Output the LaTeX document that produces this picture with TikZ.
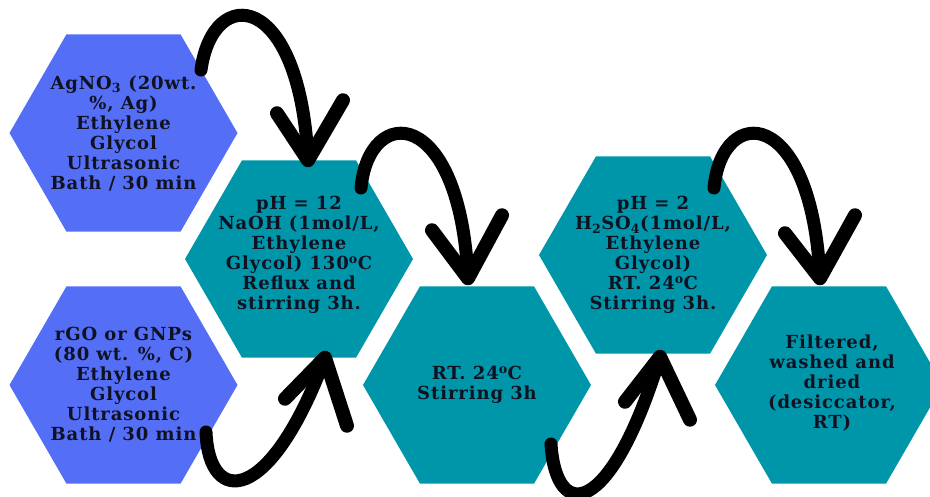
\documentclass[tikz,border=0pt]{standalone}
\usepackage{fontspec}
\setmainfont{DejaVu Serif}[LetterSpace=5]
\usetikzlibrary{shapes.geometric}
\definecolor{hexblue}{RGB}{84,110,246}
\definecolor{hexteal}{RGB}{0,150,170}
\definecolor{inkdark}{RGB}{16,18,34}
\tikzset{
    hexa/.style={regular polygon,regular polygon sides=6,minimum size=228pt,inner sep=0pt,outer sep=0pt},
    hextext/.style={align=center,text=inkdark,font=\bfseries\fontsize{18}{20}\selectfont},
    brush/.style={line width=13pt,line cap=round},
    barb/.style={line width=14pt,line cap=round,line join=round}
}

\begin{document}
\begin{tikzpicture}[x=1pt,y=-1pt]

    \useasboundingbox (0,0) rectangle (930,497);
    \clip (0,0) rectangle (930,497);

    \node[hexa,fill=hexblue] (agno) at (123.5,133) {};
    \node[hexa,fill=hexblue] (rgo) at (123.5,385) {};
    \node[hexa,fill=hexteal] (naoh) at (299,259) {};
    \node[hexa,fill=hexteal] (rtstir) at (477,385) {};
    \node[hexa,fill=hexteal] (hso) at (653,255) {};
    \node[hexa,fill=hexteal] (filt) at (829,385) {};

    \node[hextext] (agnotxt) at (agno) {AgNO\textsubscript{3} (20wt.\\ \%, Ag)\\ Ethylene\\ Glycol\\ Ultrasonic\\ Bath / 30 min};
    \node[hextext] (rgotxt) at (rgo) {rGO or GNPs\\ (80 wt. \%, C)\\ Ethylene\\ Glycol\\ Ultrasonic\\ Bath / 30 min};
    \node[hextext] (naohtxt) at ([yshift=4pt]naoh) {pH = 12\\ NaOH (1mol/L,\\ Ethylene\\ Glycol) 130\textsuperscript{o}C\\ Reflux and\\ stirring 3h.};
    \node[hextext] (rtstirtxt) at (rtstir) {RT. 24\textsuperscript{o}C\\ Stirring 3h};
    \node[hextext] (hsotxt) at (hso) {pH = 2\\ H\textsubscript{2}SO\textsubscript{4}(1mol/L,\\ Ethylene\\ Glycol)\\ RT. 24\textsuperscript{o}C\\ Stirring 3h.};
    \node[hextext] (filttxt) at ([xshift=3pt,yshift=2pt]filt) {Filtered,\\ washed and\\ dried\\ (desiccator,\\ RT)};

    \coordinate (tail1) at (201,70);
    \coordinate (tail2) at (361,188);
    \coordinate (tail3) at (714,188);
    \coordinate (tail4) at (206,432);
    \coordinate (tail5) at (551,444);
    \coordinate (tip1) at ([xshift=9pt]naoh.north);
    \coordinate (tip2) at ([xshift=-9pt,yshift=8pt]rtstir.north);
    \coordinate (tip3) at ([xshift=-9pt,yshift=8pt]filt.north);
    \coordinate (tip4) at ([xshift=26pt]naoh.south);
    \coordinate (tip5) at ([xshift=7pt,yshift=-3pt]hso.south);

    \draw[brush] (tail1) .. controls +(12,-87) and +(-8,-170) .. (tip1);
    \draw[barb] (tip1) ++(-31,-47) -- (tip1) -- ++(35,-60);
    \draw[brush] (tail2) .. controls +(8,-85) and +(-8,-173) .. (tip2);
    \draw[barb] (tip2) ++(-36,-48) -- (tip2) -- ++(34,-63);
    \draw[brush] (tail3) .. controls +(8,-85) and +(-8,-173) .. (tip3);
    \draw[barb] (tip3) ++(-35,-45) -- (tip3) -- ++(35,-63);
    \draw[brush] (tail4) .. controls +(3,75) and +(-55,148) .. (tip4);
    \draw[barb] (tip4) ++(-40,41) -- (tip4) -- ++(22,68);
    \draw[brush] (tail5) .. controls +(5,78) and +(-50,163) .. (tip5);
    \draw[barb] (tip5) ++(-35,45) -- (tip5) -- ++(30,63);
\end{tikzpicture}
\end{document}
